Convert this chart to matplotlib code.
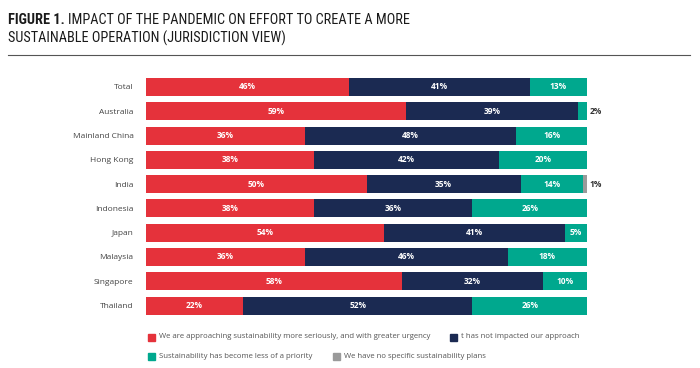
import numpy as np
import matplotlib.pyplot as plt
from matplotlib.patches import Rectangle
from matplotlib import font_manager

countries = ["Total", "Australia", "Mainland China", "Hong Kong", "India",
             "Indonesia", "Japan", "Malaysia", "Singapore", "Thailand"]
more_serious = [46, 59, 36, 38, 50, 38, 54, 36, 58, 22]
not_impacted = [41, 39, 48, 42, 35, 36, 41, 46, 32, 52]
less_priority = [13, 2, 16, 20, 14, 26, 5, 18, 10, 26]
no_plans = [0, 0, 0, 0, 1, 0, 0, 0, 0, 0]

series_names = ["We are approaching sustainability more seriously, and with greater urgency",
                "t has not impacted our approach",
                "Sustainability has become less of a priority",
                "We have no specific sustainability plans"]
colors = ["#e5323b", "#1b2a52", "#00a88e", "#9a9a9a"]

plt.rcParams['font.family'] = ['Open Sans', 'DejaVu Sans']
names = {f.name for f in font_manager.fontManager.ttflist}
title_font = ['Open Sans']
for cand in ['Roboto Condensed', 'Encode Sans Condensed', 'Liberation Sans Narrow', 'Open Sans Condensed']:
    if cand in names:
        title_font = [cand]
        break

fig = plt.figure(figsize=(7, 3.68), dpi=100)
ax = fig.add_axes([0.2086, 0.1367, 0.63, 0.66])

y = np.arange(len(countries))
left = np.zeros(len(countries))
for vals, col in zip([more_serious, not_impacted, less_priority, no_plans], colors):
    vals = np.array(vals, dtype=float)
    ax.barh(y, vals, left=left, height=0.74, color=col, edgecolor='none')
    for i, v in enumerate(vals):
        if v >= 5:
            ax.text(left[i] + v / 2, y[i], f"{int(v)}%", ha='center', va='center',
                    color='white', fontsize=6, fontweight='bold')
    left += vals

# small values shown outside the bar
for i in range(len(countries)):
    small = [v for v in (less_priority[i], no_plans[i]) if 0 < v < 5]
    if small:
        ax.text(100.6, y[i], f"{small[-1]}%", ha='left', va='center',
                color='#333333', fontsize=6, fontweight='bold')

ax.set_xlim(0, 100)
ax.set_ylim(len(countries) - 0.5, -0.5)
ax.set_yticks(y)
ax.set_yticklabels(countries, fontsize=6, color='#444444')
ax.tick_params(axis='y', length=0, pad=9)
ax.set_xticks([])
for s in ax.spines.values():
    s.set_visible(False)

# title, sized so that the first line spans about 405 px like the original
renderer = fig.canvas.get_renderer()
size = 14
t1 = fig.text(8 / 700, 1 - 20 / 368, "FIGURE 1. ", fontsize=size, fontweight='bold',
              color='#1a1a1a', va='center', ha='left', family=title_font)
t2 = fig.text(0, 1 - 20 / 368, "IMPACT OF THE PANDEMIC ON EFFORT TO CREATE A MORE",
              fontsize=size, fontweight='normal', color='#1a1a1a', va='center', ha='left',
              family=title_font)
w = t1.get_window_extent(renderer).width + t2.get_window_extent(renderer).width
size = min(14, size * 405 / w)
t1.set_fontsize(size)
t2.set_fontsize(size)
bb = t1.get_window_extent(renderer)
t2.set_x(bb.x1 / 700)
fig.text(8 / 700, 1 - 38 / 368, "SUSTAINABLE OPERATION (JURISDICTION VIEW)",
         fontsize=size, fontweight='normal', color='#1a1a1a', va='center', ha='left',
         family=title_font)
fig.add_artist(plt.Line2D([8 / 700, 690 / 700], [1 - 55 / 368, 1 - 55 / 368],
                          color='#555555', lw=0.8))

# legend
leg_pos = [(148, 337), (450, 337), (148, 356), (333, 356)]
for (px, py), name, col in zip(leg_pos, series_names, colors):
    fig.add_artist(Rectangle((px / 700, 1 - (py + 3.5) / 368), 7 / 700, 7 / 368,
                             color=col, transform=fig.transFigure))
    fig.text((px + 11) / 700, 1 - py / 368, name, fontsize=5.6, color='#555555',
             va='center', ha='left')

fig.savefig("out.png", dpi=100)
